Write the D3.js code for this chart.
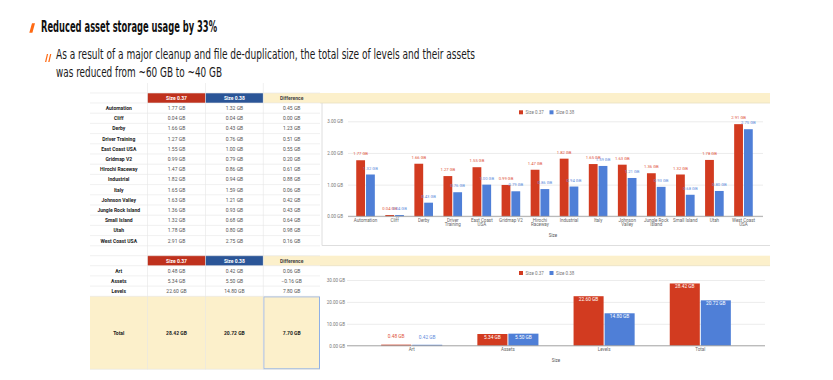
<!DOCTYPE html>
<html>
<head>
<meta charset="utf-8">
<script src="https://cdn.jsdelivr.net/npm/d3@7"></script>
<style>
  html, body { margin: 0; padding: 0; background: #fff; }
  svg { display: block; }
  text { font-family: Roboto, "Liberation Sans", sans-serif; }
  .head { font-family: "Liberation Sans Narrow", "DejaVu Sans Condensed", Roboto, sans-serif; }
</style>
</head>
<body>
<svg id="slide" width="833" height="380"></svg>
<script>
// ---- data ----
const levels = ["Automation", "Cliff", "Derby", "Driver Training", "East Coast USA", "Gridmap V2",
    "Hirochi Raceway", "Industrial", "Italy", "Johnson Valley", "Jungle Rock Island",
    "Small Island", "Utah", "West Coast USA"];
const levelTickLabels = ["Automation", "Cliff", "Derby", "Driver\nTraining", "East Coast\nUSA", "Gridmap V2",
    "Hirochi\nRaceway", "Industrial", "Italy", "Johnson\nValley", "Jungle Rock\nIsland",
    "Small Island", "Utah", "West Coast\nUSA"];
const levelSize037 = [1.77, 0.04, 1.66, 1.27, 1.55, 0.99, 1.47, 1.82, 1.65, 1.63, 1.36, 1.32, 1.78, 2.91];
const levelSize038 = [1.32, 0.04, 0.43, 0.76, 1.00, 0.79, 0.86, 0.94, 1.59, 1.21, 0.93, 0.68, 0.80, 2.75];
const levelDiff    = [0.45, 0.00, 1.23, 0.51, 0.55, 0.20, 0.61, 0.88, 0.06, 0.42, 0.43, 0.64, 0.98, 0.16];
const levelTicks = [0, 1, 2, 3];

const groups = ["Art", "Assets", "Levels", "Total"];
const groupSize037 = [0.48, 5.34, 22.60, 28.42];
const groupSize038 = [0.42, 5.50, 14.80, 20.72];
const groupDiff    = [0.06, -0.16, 7.80, 7.70];
const groupTicks = [0, 10, 20, 30];

const seriesNames = ["Size 0.37", "Size 0.38"];

// ---- setup ----
const svg = d3.select("#slide"),
    red = "#d23b20", blue = "#4f7fd7",
    redText = "#e0533c", blueText = "#5f8ddc",
    hdrRed = "#bf311d", hdrBlue = "#2b5597", hdrYellow = "#fcf0cb",
    gb = v => d3.format(".2f")(v) + " GB";

// headline + sub bullet
svg.append("polygon")
    .attr("points", "29.3,32.7 32,23.3 35,23.3 32.4,32.7")
    .style("fill", "#ff6a13");
svg.append("text")
    .attr("class", "head")
    .attr("x", 41).attr("y", 31.6)
    .attr("textLength", 176).attr("lengthAdjust", "spacingAndGlyphs")
    .style("font-size", "15.5px").style("font-weight", "bold").style("fill", "#111")
    .text("Reduced asset storage usage by 33%");

svg.append("polygon").attr("points", "45,62 46.9,54 48.1,54 46.3,62").style("fill", "#ff6a13");
svg.append("polygon").attr("points", "48.2,62 50.1,54 51.3,54 49.5,62").style("fill", "#ff6a13");
const sub = ["As a result of a major cleanup and file de-duplication, the total size of levels and their assets",
    "was reduced from ~60 GB to ~40 GB"];
svg.selectAll("text.sub")
    .data(sub)
    .join("text")
    .attr("class", "sub head")
    .attr("x", 56)
    .attr("y", (d, i) => 58.6 + i * 18)
    .attr("textLength", (d, i) => i === 0 ? 419 : 166)
    .attr("lengthAdjust", "spacingAndGlyphs")
    .style("font-size", "14.5px").style("fill", "#1a1a1a")
    .text(d => d);

// ---- tables ----
const cols = [90, 147.5, 205.5, 263.3, 320];

function drawTable(top, names, a, b, diff, rowH, totalRow) {
    const g = svg.append("g");
    const headerH = 10;
    const hdrFill = [null, hdrRed, hdrBlue, hdrYellow],
        hdrText = ["", seriesNames[0], seriesNames[1], "Difference"];
    hdrFill.forEach((f, i) => {
        if (!f) return;
        g.append("rect")
            .attr("x", cols[i]).attr("y", top)
            .attr("width", cols[i + 1] - cols[i]).attr("height", headerH)
            .style("fill", f);
        g.append("text")
            .attr("x", (cols[i] + cols[i + 1]) / 2).attr("y", top + headerH / 2 + 1.8)
            .attr("text-anchor", "middle")
            .style("font-size", "5px").style("font-weight", "bold")
            .style("fill", i === 3 ? "#444" : "#fff")
            .text(hdrText[i]);
    });
    const rows = names.map((n, i) => [n, gb(a[i]), gb(b[i]), gb(diff[i])]);
    let y = top + headerH;
    const lines = [top, y];
    rows.forEach((r, ri) => {
        const isTotal = totalRow && ri === rows.length - 1;
        const h = isTotal ? totalRow : rowH;
        if (isTotal) {
            g.append("rect")
                .attr("x", cols[0]).attr("y", y).attr("width", cols[4] - cols[0]).attr("height", h)
                .style("fill", hdrYellow);
        }
        r.forEach((t, ci) => {
            g.append("text")
                .attr("x", (cols[ci] + cols[ci + 1]) / 2).attr("y", y + h / 2 + 1.8)
                .attr("text-anchor", "middle")
                .style("font-size", "5px")
                .style("font-weight", ci === 0 || isTotal ? "bold" : "normal")
                .style("fill", ci === 0 || isTotal ? "#222" : "#555")
                .text(t);
        });
        if (isTotal) {
            g.append("rect")
                .attr("x", cols[3] + 0.5).attr("y", y + 0.5)
                .attr("width", cols[4] - cols[3] - 1).attr("height", h - 1)
                .style("fill", "none").style("stroke", "#8fb0e6").style("stroke-width", 1);
        }
        y += h;
        lines.push(y);
    });
    g.selectAll("line.h")
        .data(lines)
        .join("line")
        .attr("x1", cols[0]).attr("x2", cols[4])
        .attr("y1", d => d).attr("y2", d => d)
        .style("stroke", "#e6e6e6").style("stroke-width", 0.6);
    g.selectAll("line.v")
        .data(cols.slice(1, 4))
        .join("line")
        .attr("x1", d => d).attr("x2", d => d)
        .attr("y1", top - 10).attr("y2", y)
        .style("stroke", "#e6e6e6").style("stroke-width", 0.6);
    return y;
}

drawTable(93, levels, levelSize037, levelSize038, levelDiff, 10.2);
drawTable(255.7, groups, groupSize037, groupSize038, groupDiff, 10.2, 73);

// ---- charts ----
function drawChart(o) {
    const g = svg.append("g");
    // yellow row band and frame
    g.append("rect")
        .attr("x", 320).attr("y", o.bandTop).attr("width", 450).attr("height", 10)
        .style("fill", hdrYellow);
    g.append("line")
        .attr("x1", 320).attr("x2", 770).attr("y1", o.bandTop + 10).attr("y2", o.bandTop + 10)
        .style("stroke", "#e9e0c2").style("stroke-width", 0.8);
    if (o.frameBottom) {
        g.append("path")
            .attr("d", `M322,${o.bandTop + 10}V${o.frameBottom}H770`)
            .style("fill", "none").style("stroke", "#d6d6d6").style("stroke-width", 0.8);
    }

    const x = d3.scaleBand().domain(o.cats).range(o.xRange)
            .paddingInner(o.padIn).paddingOuter(o.padOut),
        y = d3.scaleLinear().domain([0, o.ticks[o.ticks.length - 1]]).range(o.yRange),
        bw = x.bandwidth() / 2;

    // grid + y labels
    const ya = g.append("g")
        .attr("transform", `translate(${o.gridX[0]},0)`)
        .call(d3.axisLeft(y).tickValues(o.ticks).tickSize(-(o.gridX[1] - o.gridX[0]))
            .tickPadding(o.tickPad).tickFormat(gb));
    ya.select(".domain").remove();
    ya.selectAll("line").style("stroke", "#e4e4e4").style("stroke-width", 0.7);
    ya.selectAll("text").style("font-size", "4.5px").style("fill", "#777").style("font-family", "Roboto");

    // bars
    const series = [o.a, o.b], fills = [red, blue], tfill = [redText, blueText];
    series.forEach((vals, si) => {
        const bx = c => x(c) + si * (bw + 0.5);
        g.selectAll(null)
            .data(o.cats)
            .join("rect")
            .attr("x", bx)
            .attr("y", (c, i) => y(vals[i]))
            .attr("width", bw - 0.5)
            .attr("height", (c, i) => y(0) - y(vals[i]))
            .style("fill", fills[si]);
        g.selectAll(null)
            .data(o.cats)
            .join("text")
            .attr("x", c => bx(c) + (bw - 0.5) / 2)
            .attr("y", (c, i) => {
                const top = y(vals[i]);
                return o.inside && y(0) - top > 8 ? top + 5 : top - o.labelGap;
            })
            .attr("text-anchor", "middle")
            .style("font-size", o.labelSize)
            .style("fill", (c, i) => o.inside && y(0) - y(vals[i]) > 8 ? "#fff" : tfill[si])
            .text((c, i) => gb(vals[i]));
    });

    // x axis
    const xa = g.append("g")
        .attr("transform", `translate(0,${o.yRange[0]})`)
        .call(d3.axisBottom(x).tickSize(0).tickPadding(0));
    xa.select(".domain")
        .attr("d", `M${o.gridX[0]},0H${o.gridX[1]}`)
        .style("stroke", "#9a9a9a").style("stroke-width", 0.8);
    xa.selectAll(".tick text").each(function(d, i) {
        const t = d3.select(this).text(null)
            .attr("y", 5.6).attr("dy", null)
            .style("font-size", "4.5px").style("fill", "#666").style("font-family", "Roboto");
        o.tickLabels[i].split("\n").forEach((line, li) => {
            t.append("tspan").attr("x", 0).attr("dy", li ? "1em" : 0).text(line);
        });
    });

    // legend
    const lg = g.append("g").attr("transform", `translate(519,${o.legendY})`);
    seriesNames.forEach((n, i) => {
        lg.append("rect").attr("x", i * 30.5).attr("y", 0).attr("width", 4).attr("height", 4)
            .style("fill", fills[i]);
        lg.append("text").attr("x", i * 30.5 + 6.5).attr("y", 3.6)
            .style("font-size", "4.5px").style("fill", "#777").text(n);
    });

    g.append("text")
        .attr("x", o.titleX[0]).attr("y", o.titleX[1])
        .attr("text-anchor", "middle")
        .style("font-size", "4.5px").style("fill", "#555")
        .text("Size");
}

drawChart({
    cats: levels, tickLabels: levelTickLabels, a: levelSize037, b: levelSize038,
    ticks: levelTicks, bandTop: 93, frameBottom: 245.5,
    xRange: [351, 758], padIn: 0.36, padOut: 0.18,
    yRange: [216.3, 121.3], gridX: [348, 763], tickPad: 5,
    labelGap: 4.8, labelSize: "4.2px", inside: false,
    legendY: 110.3, titleX: [553, 237]
});

drawChart({
    cats: groups, tickLabels: groups, a: groupSize037, b: groupSize038,
    ticks: groupTicks, bandTop: 255.7, frameBottom: null,
    xRange: [347, 765], padIn: 0.365, padOut: 0.355,
    yRange: [345.7, 280], gridX: [347, 765], tickPad: 2,
    labelGap: 6.2, labelSize: "4.8px", inside: true,
    legendY: 271, titleX: [556, 361.5]
});
</script>
</body>
</html>
